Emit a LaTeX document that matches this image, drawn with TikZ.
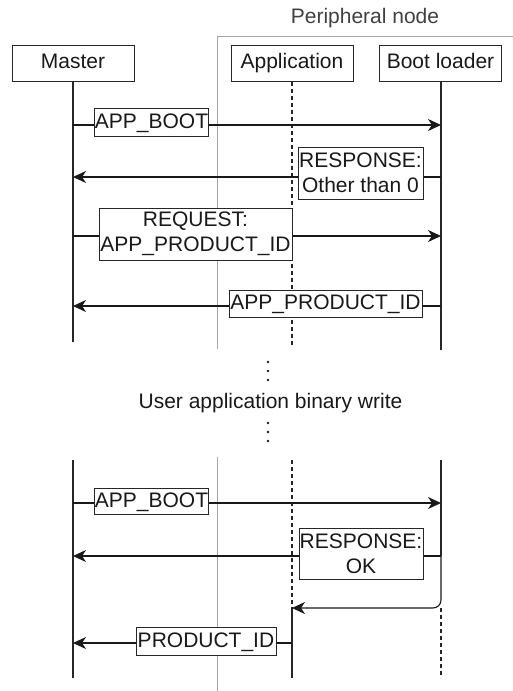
\documentclass[tikz,border=0pt]{standalone}
\usepackage{fontspec}
\setmainfont{Liberation Sans}
\usetikzlibrary{arrows.meta}

\tikzset{
  life/.style={line width=1.1pt, draw=black!85},
  lifedash/.style={life, dash pattern=on 4pt off 3pt},
  txt/.style={font=\fontsize{21}{25}\selectfont, text=black!90},
  head/.style={txt, draw=black!85, line width=1pt, minimum width=122pt,
    minimum height=36pt, inner sep=0pt, text height=15pt, text depth=4pt},
  msgbox/.style={txt, draw=black!85, line width=1pt, fill=white, inner sep=0pt},
  msg/.style={msgbox, text height=15pt, text depth=3pt},
  msgtwo/.style={msgbox, align=center},
  arr/.style={line width=1.1pt, draw=black!90,
    -{Stealth[length=13pt,width=12pt,inset=4pt]}},
  frameline/.style={draw=black!35, line width=1pt},
  dot/.style={fill=black!90},
}

\begin{document}
\begin{tikzpicture}[x=1pt,y=-1pt]
\useasboundingbox (0,0) rectangle (513,691);

% peripheral node frame
\draw[frameline] (217,349) -- (217,36) -- (513,36);
\draw[frameline] (217,457) -- (217,691);
\node[txt, text=black!75, anchor=base] (periph) at (365,23) {Peripheral node};

% participants
\node[head] (master) at (73,63) {Master};
\node[head] (app) at (292,63) {Application};
\node[head] (boot) at (440.5,63) {Boot loader};

% lifelines, first phase
\coordinate (mEnd) at (73,342);
\coordinate (aEnd) at (292,347);
\coordinate (bEnd) at (441,350);
\draw[life] (master.south) -- (mEnd);
\draw[lifedash] (app.south) -- (aEnd);
\draw[life] (boot.south -| bEnd) -- (bEnd);

% lifelines, second phase
\coordinate (mTop) at (73,460);
\coordinate (mBot) at (73,678);
\coordinate (aTop) at (292,460);
\coordinate (aTurn) at (292,608);
\coordinate (aBot) at (292,678);
\coordinate (bTop) at (441,460);
\coordinate (bMsg) at (441,556);
\coordinate (bTurn) at (441,608);
\coordinate (bBot) at (441,678);
\draw[life] (mTop) -- (mBot);
\draw[lifedash] (aTop) -- (aTurn);
\draw[life] (aTurn) -- (aBot);
\draw[life] (bTop) -- (bMsg);
\draw[lifedash] (bTurn) -- (bBot);

% messages, first phase
\coordinate (m1) at (73,125);  \coordinate (b1) at (441,125);
\coordinate (b2) at (441,177); \coordinate (m2) at (73,177);
\coordinate (m3) at (73,236);  \coordinate (b3) at (441,236);
\coordinate (b4) at (441,306); \coordinate (m4) at (73,306);
\draw[arr] (m1) -- (b1);
\draw[arr] (b2) -- (m2);
\draw[arr] (m3) -- (b3);
\draw[arr] (b4) -- (m4);
\node[msg, minimum width=111pt, minimum height=28pt] (l1) at (151.5,122) {APP\_BOOT};
\node[msgtwo, minimum width=125pt, minimum height=52pt] (l2) at (360.5,173) {RESPONSE:\\Other than 0};
\node[msgtwo, minimum width=193pt, minimum height=52pt] (l3) at (195.5,234) {REQUEST:\\APP\_PRODUCT\_ID};
\node[msg, minimum width=193pt, minimum height=27pt] (l4) at (325.5,303.5) {APP\_PRODUCT\_ID};

% omitted part
\foreach \y in {362,371,380,423,432,441}
  \fill[dot] (268,\y) circle (1.4pt);
\node[txt, anchor=base] (gap) at (270.5,408) {User application binary write};

% messages, second phase
\coordinate (m5) at (73,503);  \coordinate (b5) at (441,503);
\coordinate (m6) at (73,556);
\coordinate (m7) at (73,643);  \coordinate (a7) at (292,643);
\draw[arr] (m5) -- (b5);
\draw[arr] (bMsg) -- (m6);
\draw[arr, rounded corners=8pt] (bMsg) -- (bTurn) -- (aTurn);
\draw[arr] (a7) -- (m7);
\node[msg, minimum width=111pt, minimum height=26pt] (l5) at (151.5,501) {APP\_BOOT};
\node[msgtwo, minimum width=124pt, minimum height=51pt] (l6) at (361,553.5) {RESPONSE:\\OK};
\node[msg, minimum width=140pt, minimum height=28pt] (l7) at (206,641) {PRODUCT\_ID};
\end{tikzpicture}
\end{document}
